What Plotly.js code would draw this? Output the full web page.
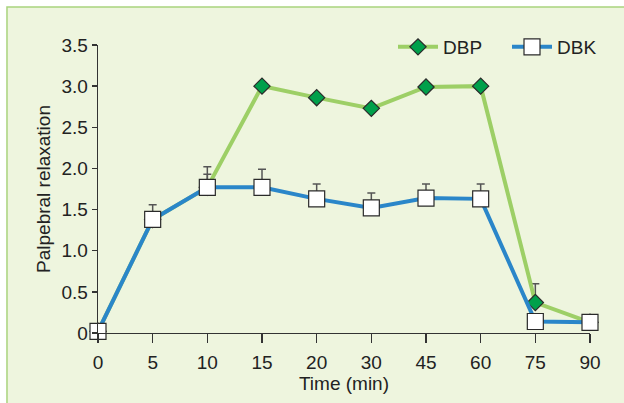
<!DOCTYPE html>
<html>
<head>
<meta charset="utf-8">
<script src="https://cdn.plot.ly/plotly-3.0.1.min.js"></script>
<style>
  html, body { margin: 0; padding: 0; background: #ffffff; }
  #chart { width: 624px; height: 403px; }
</style>
</head>
<body>
<div id="chart"></div>
<script>
// Data
const times = ["0", "5", "10", "15", "20", "30", "45", "60", "75", "90"];
const dbpValues = [0.02, 1.38, 1.77, 3.0, 2.86, 2.73, 2.99, 3.0, 0.37, 0.13];
const dbpErrPlus = [0, 0, 0.25, 0, 0, 0, 0, 0, 0.23, 0];
const dbkValues = [0.02, 1.38, 1.77, 1.77, 1.63, 1.52, 1.64, 1.63, 0.14, 0.13];
const dbkErrPlus = [0, 0.18, 0.16, 0.22, 0.18, 0.18, 0.17, 0.18, 0, 0];
const zeros = times.map(() => 0);
const yTickVals = [0, 0.5, 1.0, 1.5, 2.0, 2.5, 3.0, 3.5];
const yTickText = ["0", "0.5", "1.0", "1.5", "2.0", "2.5", "3.0", "3.5"];

const FONT = "Liberation Sans, Arial, Helvetica, sans-serif";
const TXT = "#222222";
const BG = "#eef5de";
const BORDER = "#a9d47d";

const traces = [
  {
    name: "DBP",
    x: times,
    y: dbpValues,
    type: "scatter",
    mode: "lines+markers",
    cliponaxis: false,
    line: { color: "#9dcf66", width: 4 },
    marker: { symbol: "diamond", size: 12.5, color: "#00a04b", line: { color: "#2a2a2a", width: 1.2 } },
    error_y: { type: "data", symmetric: false, array: dbpErrPlus, arrayminus: zeros, color: "#555555", thickness: 1.5, width: 4 }
  },
  {
    name: "DBK",
    x: times,
    y: dbkValues,
    type: "scatter",
    mode: "lines+markers",
    cliponaxis: false,
    line: { color: "#2a86c9", width: 4 },
    marker: { symbol: "square", size: 16, color: "#ffffff", line: { color: "#2a2a2a", width: 1.2 } },
    error_y: { type: "data", symmetric: false, array: dbkErrPlus, arrayminus: zeros, color: "#555555", thickness: 1.5, width: 4 }
  }
];

const layout = {
  width: 624,
  height: 403,
  margin: { l: 98, r: 34, t: 45, b: 70, autoexpand: false },
  paper_bgcolor: "#ffffff",
  plot_bgcolor: BG,
  font: { family: FONT, color: TXT, size: 19 },
  showlegend: true,
  legend: {
    orientation: "h",
    x: 0.5996,
    xanchor: "left",
    y: 0.993,
    yanchor: "middle",
    bgcolor: "rgba(0,0,0,0)",
    font: { family: FONT, size: 19, color: TXT },
    itemwidth: 40,
    entrywidth: 59,
    entrywidthmode: "pixels"
  },
  xaxis: {
    type: "category",
    categoryorder: "array",
    categoryarray: times,
    range: [0, 9],
    showgrid: false,
    zeroline: false,
    showline: true,
    linecolor: "#333333",
    linewidth: 1.3,
    ticks: "outside",
    ticklen: 9,
    tickwidth: 1.3,
    tickcolor: "#333333",
    ticklabelstandoff: 3,
    tickfont: { family: FONT, size: 19, color: TXT },
    title: { text: "Time (min)", font: { family: FONT, size: 19, color: TXT }, standoff: 2 }
  },
  yaxis: {
    range: [0, 3.5],
    tickvals: yTickVals,
    ticktext: yTickText,
    showgrid: false,
    zeroline: false,
    showline: true,
    linecolor: "#333333",
    linewidth: 1.3,
    ticks: "outside",
    ticklen: 5,
    tickwidth: 1.3,
    tickcolor: "#333333",
    tickfont: { family: FONT, size: 19, color: TXT },
    title: { text: "Palpebral relaxation", font: { family: FONT, size: 19, color: TXT } }
  },
  shapes: [
    {
      type: "rect", xref: "paper", yref: "paper", layer: "below",
      x0: -0.185, x1: 1.09, y0: -0.28, y1: 1.1319,
      fillcolor: BG, line: { color: BORDER, width: 1.5 }
    }
  ]
};

Plotly.newPlot("chart", traces, layout, { displayModeBar: false, staticPlot: true });
</script>
</body>
</html>
